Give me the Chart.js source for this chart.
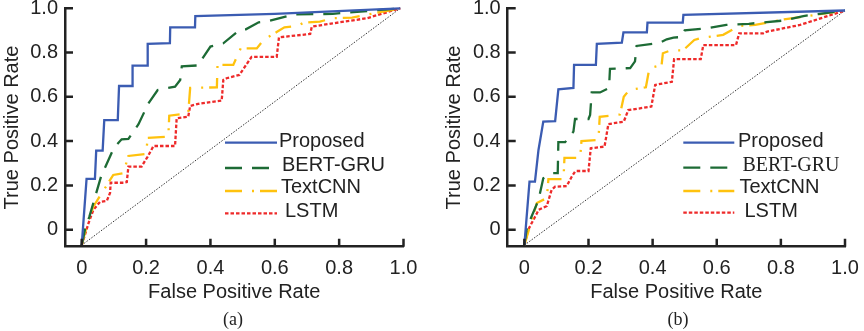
<!DOCTYPE html>
<html>
<head>
<meta charset="utf-8">
<script src="https://cdn.jsdelivr.net/npm/chart.js@4.4.1/dist/chart.umd.min.js"></script>
<style>
  html, body { margin: 0; padding: 0; background: #fff; }
  body { width: 864px; height: 331px; position: relative; overflow: hidden; }
  .panel { position: absolute; top: 0; height: 331px; }
  .caption { position: absolute; top: 309px; width: 60px; margin-left: -30px; text-align: center;
             font-family: 'Liberation Serif', 'Times New Roman', serif; font-size: 18px; color: #222; }
</style>
</head>
<body>
<div class="panel" style="left:0;width:432px"><canvas id="chartA"></canvas></div>
<div class="panel" style="left:442px;width:422px"><canvas id="chartB"></canvas></div>
<div class="caption" style="left:233px">(a)</div>
<div class="caption" style="left:678px">(b)</div>
<script>
// tick values (labels "0", "0.2" ... "1.0")
const xTicks = [0, 0.2, 0.4, 0.6, 0.8, 1.0];
const yTicks = [0, 0.2, 0.4, 0.6, 0.8, 1.0];
const seriesNames = ['Proposed', 'BERT-GRU', 'TextCNN', 'LSTM'];

// panel (a)
const propA_fpr = [0, 0.015, 0.041, 0.045, 0.065, 0.070, 0.112, 0.116, 0.157, 0.158, 0.204, 0.205, 0.274, 0.275, 0.352, 0.353, 0.60, 0.99];
const propA_tpr = [-0.07, 0.229, 0.229, 0.357, 0.357, 0.495, 0.495, 0.649, 0.649, 0.741, 0.741, 0.839, 0.843, 0.914, 0.914, 0.965, 0.975, 1.0];
const bertA_fpr = [0, 0.01, 0.024, 0.06, 0.10, 0.124, 0.145, 0.176, 0.207, 0.236, 0.29, 0.306, 0.311, 0.363, 0.378, 0.40, 0.44, 0.49, 0.51, 0.55, 0.58, 0.66, 0.78, 0.99];
const bertA_tpr = [-0.07, 0.0, 0.06, 0.24, 0.37, 0.408, 0.41, 0.475, 0.57, 0.631, 0.646, 0.676, 0.738, 0.742, 0.78, 0.827, 0.842, 0.902, 0.905, 0.937, 0.942, 0.972, 0.975, 1.0];
const textA_fpr = [0, 0.02, 0.036, 0.062, 0.098, 0.129, 0.145, 0.20, 0.205, 0.269, 0.272, 0.331, 0.337, 0.42, 0.422, 0.471, 0.494, 0.544, 0.565, 0.607, 0.63, 0.67, 0.69, 0.74, 0.78, 0.84, 0.99];
const textA_tpr = [-0.07, 0.04, 0.104, 0.164, 0.247, 0.255, 0.333, 0.342, 0.415, 0.42, 0.515, 0.526, 0.64, 0.643, 0.744, 0.744, 0.819, 0.819, 0.857, 0.894, 0.914, 0.92, 0.935, 0.94, 0.955, 0.958, 1.0];
const lstmA_fpr = [0, 0.021, 0.036, 0.057, 0.078, 0.088, 0.09, 0.13, 0.14, 0.145, 0.186, 0.205, 0.223, 0.29, 0.295, 0.331, 0.337, 0.362, 0.435, 0.44, 0.45, 0.49, 0.528, 0.606, 0.613, 0.71, 0.715, 0.78, 0.886, 0.99];
const lstmA_tpr = [-0.07, 0.029, 0.089, 0.126, 0.13, 0.166, 0.212, 0.212, 0.215, 0.285, 0.285, 0.33, 0.378, 0.378, 0.503, 0.51, 0.559, 0.568, 0.583, 0.676, 0.684, 0.699, 0.781, 0.781, 0.869, 0.884, 0.917, 0.932, 0.955, 1.0];
const diagA_fpr = [0, 0.99];
const diagA_tpr = [-0.07, 1.0];

// panel (b)
const propB_fpr = [0, 0.016, 0.033, 0.044, 0.059, 0.096, 0.106, 0.153, 0.155, 0.223, 0.226, 0.304, 0.309, 0.382, 0.384, 0.494, 0.496, 1.0];
const propB_tpr = [-0.07, 0.217, 0.217, 0.36, 0.488, 0.49, 0.634, 0.64, 0.744, 0.744, 0.839, 0.845, 0.891, 0.891, 0.935, 0.935, 0.97, 0.99];
const bertB_fpr = [0, 0.007, 0.018, 0.044, 0.059, 0.089, 0.104, 0.106, 0.127, 0.153, 0.158, 0.2, 0.205, 0.21, 0.236, 0.264, 0.267, 0.33, 0.345, 0.35, 0.42, 0.444, 0.465, 0.49, 0.5, 0.57, 0.63, 0.70, 0.81, 0.87, 1.0];
const bertB_tpr = [-0.07, 0.0, 0.044, 0.134, 0.232, 0.255, 0.255, 0.395, 0.395, 0.443, 0.5, 0.5, 0.518, 0.62, 0.62, 0.64, 0.726, 0.73, 0.76, 0.83, 0.843, 0.86, 0.868, 0.87, 0.9, 0.91, 0.925, 0.93, 0.945, 0.965, 0.99];
const textB_fpr = [0, 0.023, 0.039, 0.07, 0.075, 0.122, 0.125, 0.174, 0.178, 0.231, 0.235, 0.298, 0.31, 0.327, 0.379, 0.39, 0.428, 0.432, 0.457, 0.495, 0.53, 0.548, 0.62, 0.67, 0.72, 0.81, 0.86, 1.0];
const textB_tpr = [-0.07, 0.044, 0.12, 0.143, 0.228, 0.228, 0.324, 0.324, 0.40, 0.405, 0.51, 0.52, 0.6, 0.631, 0.643, 0.73, 0.744, 0.797, 0.81, 0.81, 0.857, 0.865, 0.88, 0.92, 0.925, 0.95, 0.96, 0.99];
const lstmB_fpr = [0, 0.012, 0.039, 0.044, 0.07, 0.085, 0.096, 0.132, 0.148, 0.158, 0.163, 0.2, 0.207, 0.25, 0.262, 0.31, 0.324, 0.396, 0.408, 0.46, 0.467, 0.55, 0.558, 0.66, 0.67, 0.745, 0.755, 0.86, 1.0];
const lstmB_tpr = [-0.07, 0.0, 0.074, 0.089, 0.107, 0.18, 0.194, 0.197, 0.24, 0.262, 0.265, 0.265, 0.368, 0.375, 0.477, 0.488, 0.54, 0.556, 0.654, 0.668, 0.77, 0.77, 0.834, 0.834, 0.887, 0.887, 0.894, 0.925, 0.99];
const diagB_fpr = [0, 1.0];
const diagB_tpr = [-0.07, 0.99];

const SANS = "'Liberation Sans', Arial, sans-serif";
const SERIF = "'Liberation Serif', 'Times New Roman', serif";
const ink = '#222';

// line styles: Proposed, BERT-GRU, TextCNN, LSTM
const lineColors = ['#3b5cb2', '#1d6b35', '#ffc20e', '#ee2a2a'];
const lineDashes = [[], [17, 10], [17, 10, 2, 6], [3.5, 2]];

const toPoints = (xs, ys) => xs.map((x, i) => ({ x: x, y: ys[i] }));
const tickLabel = v => (v === 0 ? '0' : Number(v).toFixed(1));

// inward tick marks
const innerTicks = {
    id: 'innerTicks',
    afterDraw(chart) {
        const { ctx, chartArea: a, scales } = chart;
        ctx.save();
        ctx.strokeStyle = ink;
        ctx.lineWidth = 2.5;
        ctx.beginPath();
        scales.x.ticks.forEach(t => {
            const p = scales.x.getPixelForValue(t.value);
            ctx.moveTo(p, a.bottom);
            ctx.lineTo(p, a.bottom - 8);
        });
        scales.y.ticks.forEach(t => {
            const p = scales.y.getPixelForValue(t.value);
            ctx.moveTo(a.left, p);
            ctx.lineTo(a.left + 8, p);
        });
        ctx.stroke();
        ctx.restore();
    }
};

// legend inside the plot
const rocLegend = {
    id: 'rocLegend',
    afterDraw(chart, args, opts) {
        const ctx = chart.ctx;
        ctx.save();
        seriesNames.forEach((name, i) => {
            const ds = chart.data.datasets[i];
            ctx.strokeStyle = ds.borderColor;
            ctx.lineWidth = ds.borderWidth;
            ctx.setLineDash(ds.borderDash);
            ctx.beginPath();
            ctx.moveTo(opts.lineX[0], opts.lineY[i]);
            ctx.lineTo(opts.lineX[1], opts.lineY[i]);
            ctx.stroke();
            ctx.setLineDash([]);
            ctx.fillStyle = ink;
            ctx.font = '20px ' + opts.fonts[i];
            ctx.textAlign = 'left';
            ctx.textBaseline = 'middle';
            ctx.fillText(name, opts.textX[i], opts.textY[i]);
        });
        ctx.restore();
    }
};

function makeChart(id, curves, diag, axisWidth, padRight, legendOpts) {
    const datasets = curves.map((c, i) => ({
        label: seriesNames[i],
        data: toPoints(c[0], c[1]),
        borderColor: lineColors[i],
        borderDash: lineDashes[i],
        borderWidth: 2.3,
        pointRadius: 0,
        tension: 0,
        fill: false,
        clip: false
    }));
    datasets.push({
        label: 'chance',
        data: toPoints(diag[0], diag[1]),
        borderColor: '#333',
        borderDash: [1.5, 1.5],
        borderWidth: 1,
        pointRadius: 0,
        fill: false,
        clip: false
    });

    new Chart(document.getElementById(id), {
        type: 'line',
        data: { datasets: datasets },
        options: {
            responsive: true,
            maintainAspectRatio: false,
            animation: false,
            layout: { padding: { left: 0, top: 8.3, right: padRight, bottom: 26.3 } },
            plugins: {
                legend: { display: false },
                tooltip: { enabled: false },
                rocLegend: legendOpts
            },
            scales: {
                x: {
                    type: 'linear',
                    min: -0.052,
                    max: 1.0,
                    afterBuildTicks: axis => { axis.ticks = xTicks.map(v => ({ value: v })); },
                    afterFit: axis => { axis.height = 58; axis.paddingLeft = 0; axis.paddingRight = 0; },
                    ticks: { callback: tickLabel, color: ink, font: { family: SANS, size: 20 }, padding: 10, maxRotation: 0, autoSkip: false },
                    grid: { display: false, drawTicks: false },
                    border: { display: true, color: ink, width: 2.5 },
                    title: { display: true, text: 'False Positive Rate', color: ink, font: { family: SANS, size: 20 }, padding: 0 }
                },
                y: {
                    type: 'linear',
                    min: -0.077,
                    max: 1.0,
                    afterBuildTicks: axis => { axis.ticks = yTicks.map(v => ({ value: v })); },
                    afterFit: axis => { axis.width = axisWidth; axis.paddingTop = 0; axis.paddingBottom = 0; },
                    ticks: { callback: tickLabel, color: ink, font: { family: SANS, size: 20 }, padding: 7, autoSkip: false },
                    grid: { display: false, drawTicks: false },
                    border: { display: true, color: ink, width: 2.5 },
                    title: { display: true, text: 'True Positive Rate', color: ink, font: { family: SANS, size: 20 }, padding: 0 }
                }
            }
        },
        plugins: [innerTicks, rocLegend]
    });
}

makeChart('chartA',
    [[propA_fpr, propA_tpr], [bertA_fpr, bertA_tpr], [textA_fpr, textA_tpr], [lstmA_fpr, lstmA_tpr]],
    [diagA_fpr, diagA_tpr], 65, 28.5,
    { lineX: [225, 277], lineY: [142.7, 168, 191, 213.3], textX: [279, 282, 281, 285], textY: [141.7, 165.5, 187.5, 211],
      fonts: [SANS, SANS, SANS, SANS] });

makeChart('chartB',
    [[propB_fpr, propB_tpr], [bertB_fpr, bertB_tpr], [textB_fpr, textB_tpr], [lstmB_fpr, lstmB_tpr]],
    [diagB_fpr, diagB_tpr], 65.7, 19,
    { lineX: [241.3, 292.3], lineY: [142.7, 167.7, 191, 212.7], textX: [296, 300.5, 297.5, 302.5], textY: [141, 166, 187.5, 211],
      fonts: [SANS, SERIF, SANS, SANS] });
</script>
</body>
</html>
